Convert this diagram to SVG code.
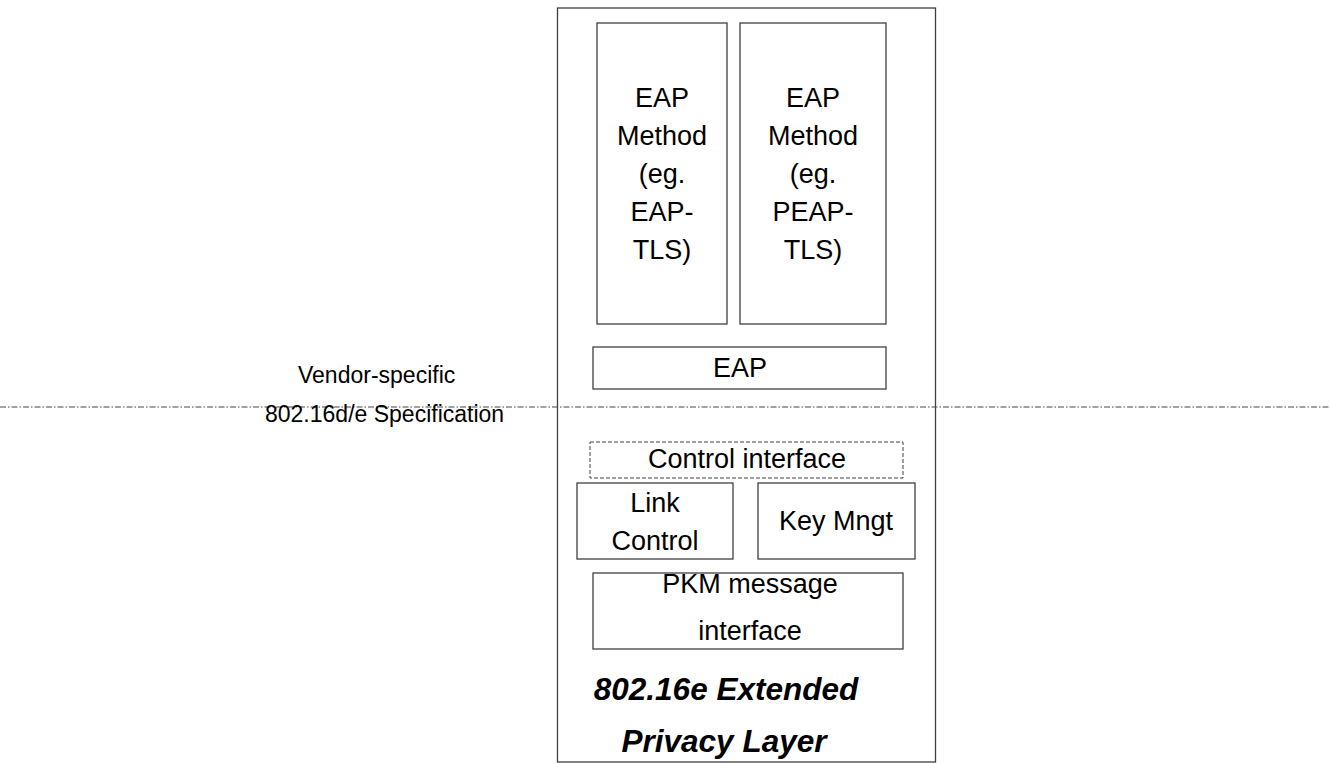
<svg xmlns="http://www.w3.org/2000/svg" width="1330" height="763" viewBox="0 0 1330 763">
<style>
.box{fill:#fff;stroke:#404040;stroke-width:1.3}
.t{font-family:"Liberation Sans",Arial,sans-serif;font-size:27px;fill:#000;text-anchor:middle}
.s{font-family:"Liberation Sans",Arial,sans-serif;font-size:23px;fill:#000}
.b{font-family:"Liberation Sans",Arial,sans-serif;font-size:31.5px;font-weight:bold;font-style:italic;fill:#000;text-anchor:middle}
</style>
<rect width="1330" height="763" fill="#fff"/>
<g id="layer">
<rect class="box" x="557.5" y="8" width="378" height="754" stroke="#555"/>
<text class="b" x="726" y="700">802.16e Extended</text>
<text class="b" x="724" y="752">Privacy Layer</text>
</g>
<g id="connectors">
<line x1="0" y1="407" x2="1330" y2="407" stroke="#444" stroke-width="1" stroke-dasharray="6 2 1.5 2"/>
</g>
<g id="eap-tls">
<rect class="box" x="597" y="23" width="130" height="301"/>
<text class="t" x="662" y="107">EAP</text>
<text class="t" x="662" y="145">Method</text>
<text class="t" x="662" y="183">(eg.</text>
<text class="t" x="662" y="221">EAP-</text>
<text class="t" x="662" y="259">TLS)</text>
</g>
<g id="peap-tls">
<rect class="box" x="740" y="23" width="146" height="301"/>
<text class="t" x="813" y="107">EAP</text>
<text class="t" x="813" y="145">Method</text>
<text class="t" x="813" y="183">(eg.</text>
<text class="t" x="813" y="221">PEAP-</text>
<text class="t" x="813" y="259">TLS)</text>
</g>
<g id="eap">
<rect class="box" x="593" y="347" width="293" height="42"/>
<text class="t" x="740" y="377">EAP</text>
</g>
<g id="control-interface">
<rect x="590" y="442" width="313" height="36" fill="#fff" stroke="#404040" stroke-width="1" stroke-dasharray="4 2"/>
<text class="t" x="747" y="468">Control interface</text>
</g>
<g id="link-control">
<rect class="box" x="577" y="483" width="156" height="76"/>
<text class="t" x="655" y="512">Link</text>
<text class="t" x="655" y="550">Control</text>
</g>
<g id="key-mngt">
<rect class="box" x="758" y="483" width="157" height="76"/>
<text class="t" x="836" y="530">Key Mngt</text>
</g>
<g id="pkm">
<rect class="box" x="593" y="573" width="310" height="76"/>
<text class="t" x="750" y="593">PKM message</text>
<text class="t" x="750" y="640">interface</text>
</g>
<g id="labels">
<text class="s" x="298" y="383">Vendor-specific</text>
<text class="s" x="265" y="422">802.16d/e Specification</text>
</g>
</svg>
